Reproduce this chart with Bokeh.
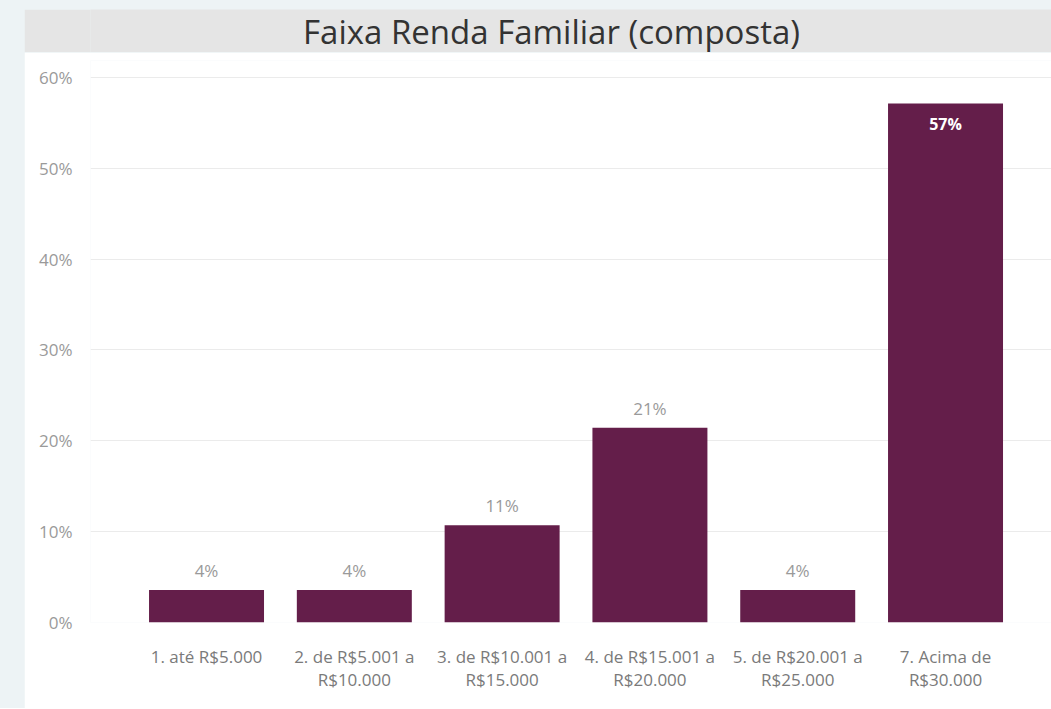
from bokeh.plotting import figure
from bokeh.models import (Range1d, FixedTicker, NumeralTickFormatter, ColumnDataSource,
                          Label, Spacer)
from bokeh.layouts import row, column
from bokeh.core.properties import value
from bokeh.embed import file_html
from bokeh.resources import INLINE

# ---- data ----
title_text = "Faixa Renda Familiar (composta)"
categories = [
    "1. até R$5.000",
    "2. de R$5.001 a\nR$10.000",
    "3. de R$10.001 a\nR$15.000",
    "4. de R$15.001 a\nR$20.000",
    "5. de R$20.001 a\nR$25.000",
    "7. Acima de\nR$30.000",
]
shares = [0.0357, 0.0357, 0.1071, 0.2143, 0.0357, 0.5714]
y_ticks = [0.0, 0.1, 0.2, 0.3, 0.4, 0.5, 0.6]

BAR = "#641e4a"
BG = "#edf3f5"
GREY = "#e5e5e5"
FONT = "Open Sans"

xs = list(range(len(categories)))
labels = [f"{round(v * 100):.0f}%" for v in shares]

# ---- title bar (frame gets aligned with the chart frame below: 90..1051) ----
t = figure(width=1027, height=43, output_backend="svg", toolbar_location=None,
           x_range=Range1d(0, 961), y_range=Range1d(0, 1),
           x_axis_location=None, y_axis_location=None,
           min_border_left=66, min_border_right=0, min_border_top=0, min_border_bottom=0)
t.title.text = ""
t.grid.visible = False
t.outline_line_color = None
t.background_fill_color = GREY
t.border_fill_color = GREY
t.add_layout(Label(x=461, y=0.5, text=title_text, text_align="center",
                   text_baseline="middle", text_font=FONT,
                   text_font_size="33px", text_color="#333333"))

# ---- main chart ----
p = figure(width=1027, height=656, output_backend="svg", toolbar_location=None,
           x_range=Range1d(-0.785, 5.717), y_range=Range1d(0, 0.6187),
           min_border_left=66, min_border_right=0, min_border_top=8, min_border_bottom=86)
p.title.text = ""
p.outline_line_color = None
p.background_fill_color = "white"
p.border_fill_color = "white"
p.xgrid.visible = False
p.ygrid.grid_line_color = "#ebebeb"
p.ygrid.grid_line_width = 1
p.ygrid.ticker = FixedTicker(ticks=y_ticks)

src = ColumnDataSource(dict(x=xs, top=shares, label=labels))
p.vbar(x="x", top="top", width=0.778, bottom=0, source=src,
       fill_color=BAR, line_color=None)

outside = ColumnDataSource(dict(
    x=[x for x, v in zip(xs, shares) if v < 0.5],
    y=[v for v in shares if v < 0.5],
    label=[l for l, v in zip(labels, shares) if v < 0.5]))
inside = ColumnDataSource(dict(
    x=[x for x, v in zip(xs, shares) if v >= 0.5],
    y=[v for v in shares if v >= 0.5],
    label=[l for l, v in zip(labels, shares) if v >= 0.5]))

p.text(x="x", y="y", text="label", source=outside, text_align="center",
       text_baseline="bottom", y_offset=-8, text_font=value(FONT),
       text_font_size="17px", text_color="#9a9a9a")
p.text(x="x", y="y", text="label", source=inside, text_align="center",
       text_baseline="top", y_offset=10, text_font=value(FONT),
       text_font_size="16px", text_color="white", text_font_style="bold")

# x axis
xa = p.xaxis[0]
xa.ticker = FixedTicker(ticks=xs)
xa.major_label_overrides = {i: c for i, c in zip(xs, categories)}
xa.axis_line_color = None
xa.major_tick_line_color = None
xa.minor_tick_line_color = None
xa.major_label_standoff = 16
xa.major_label_text_font = FONT
xa.major_label_text_font_size = "17px"
xa.major_label_text_color = "#7a7a7a"
xa.major_label_text_line_height = 1.04

# y axis
ya = p.yaxis[0]
ya.ticker = FixedTicker(ticks=y_ticks)
ya.formatter = NumeralTickFormatter(format="0%")
ya.axis_line_color = None
ya.major_tick_line_color = None
ya.minor_tick_line_color = None
ya.major_label_standoff = 12
ya.major_label_text_font = FONT
ya.major_label_text_font_size = "17px"
ya.major_label_text_color = "#9a9a9a"

layout = row(Spacer(width=24, height=708),
             column(Spacer(width=1027, height=9), t, p, spacing=0),
             spacing=0, styles={"background-color": BG})

open("out.html", "w").write(file_html(layout, INLINE))
